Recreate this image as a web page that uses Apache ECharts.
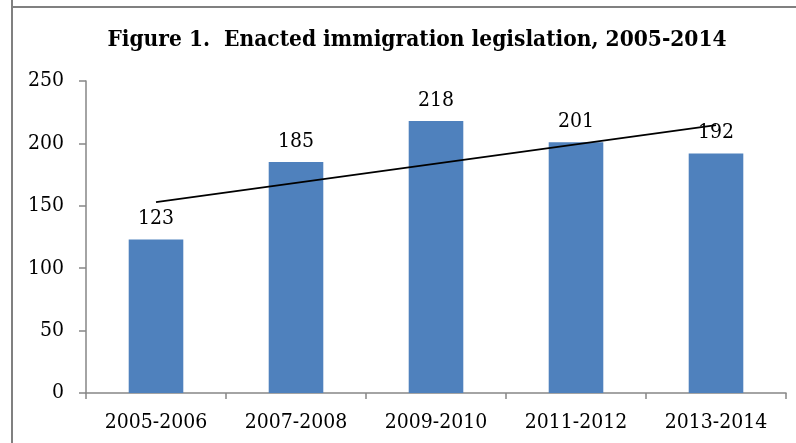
<!DOCTYPE html>
<html>
<head>
<meta charset="utf-8">
<script src="https://cdn.jsdelivr.net/npm/echarts@6/dist/echarts.min.js"></script>
<style>
  html, body { margin: 0; padding: 0; background: #fff; }
  #chart { width: 796px; height: 443px; }
</style>
</head>
<body>
<div id="chart"></div>
<script>
// Enacted immigration legislation by legislative session
const categories = ['2005-2006', '2007-2008', '2009-2010', '2011-2012', '2013-2014'];
const enacted = [123, 185, 218, 201, 192];
// Linear trendline endpoints (first and last session)
const trendEnds = [153, 214.6];
const yTicks = { min: 0, max: 250, interval: 50 };

const serif = '"DejaVu Serif Condensed", "DejaVu Serif", "Liberation Serif", serif';
const trendData = categories.map((c, i) =>
  i === 0 ? trendEnds[0] : (i === categories.length - 1 ? trendEnds[1] : null));

const chart = echarts.init(document.getElementById('chart'), null, { renderer: 'canvas' });
chart.setOption({
  animation: false,
  backgroundColor: '#fff',
  title: {
    text: 'Figure 1.  Enacted immigration legislation, 2005-2014',
    left: 412, top: 24, textAlign: 'center',
    textStyle: { fontFamily: serif, fontWeight: 'bold', fontSize: 22.5, color: '#000' }
  },
  graphic: [
    { type: 'line', shape: { x1: 12, y1: 0, x2: 12, y2: 443 }, style: { stroke: '#808080', lineWidth: 2 } },
    { type: 'line', shape: { x1: 11, y1: 7, x2: 796, y2: 7 }, style: { stroke: '#808080', lineWidth: 2 } }
  ],
  grid: { left: 86, right: 10, top: 81, bottom: 50, containLabel: false },
  xAxis: {
    type: 'category',
    data: categories,
    axisLine: { lineStyle: { color: '#868686', width: 1.5 } },
    axisTick: { show: true, length: 6, inside: false, lineStyle: { color: '#868686', width: 1.5 } },
    axisLabel: { fontFamily: serif, fontSize: 21, color: '#000', margin: 19 }
  },
  yAxis: {
    type: 'value',
    min: yTicks.min, max: yTicks.max, interval: yTicks.interval,
    axisLine: { show: true, lineStyle: { color: '#868686', width: 1.5 } },
    axisTick: { show: true, length: 7, lineStyle: { color: '#868686', width: 1.5 } },
    splitLine: { show: false },
    axisLabel: { fontFamily: serif, fontSize: 21, color: '#000', margin: 22 }
  },
  series: [
    {
      type: 'bar',
      data: enacted,
      barWidth: '39%',
      itemStyle: { color: '#4F81BD' },
      label: {
        show: true, position: 'top', distance: 10,
        fontFamily: serif, fontSize: 21, color: '#000'
      }
    },
    {
      type: 'line',
      data: trendData,
      connectNulls: true,
      symbol: 'none',
      lineStyle: { color: '#000', width: 1.8 },
      z: 5
    }
  ]
});
</script>
</body>
</html>
